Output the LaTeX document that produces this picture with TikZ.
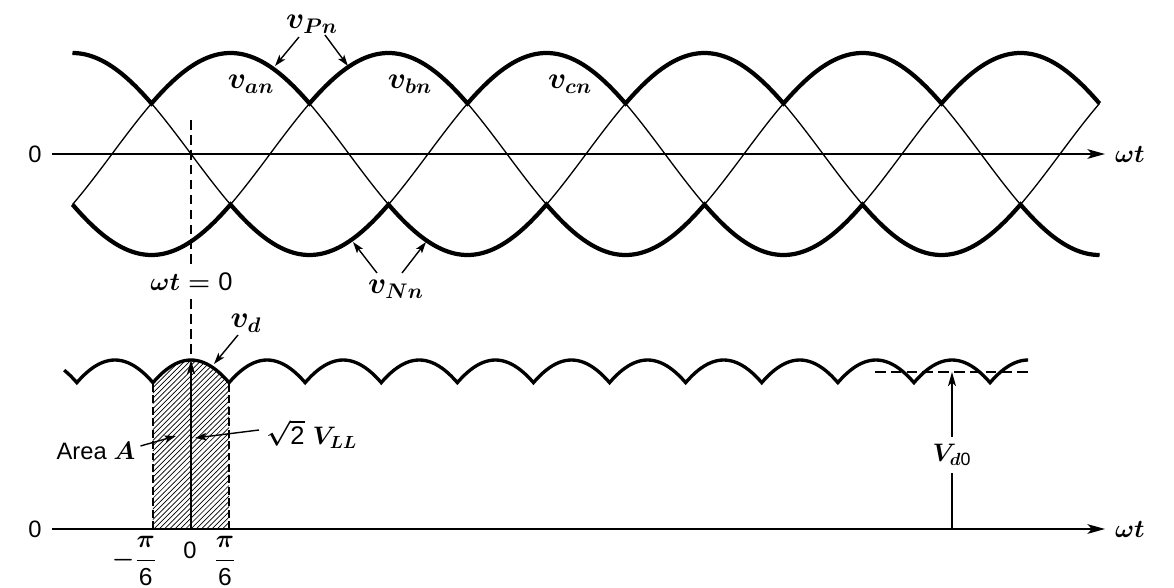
\documentclass[tikz,border=0pt]{standalone}
\usepackage{amsmath}
\usepackage{fontspec}
\setmainfont{Liberation Sans}
\usetikzlibrary{arrows.meta,patterns,calc}
\begin{document}
\begin{tikzpicture}[x=0.02cm,y=-0.02cm,
  thinc/.style={line width=0.75pt},
  thickc/.style={line width=2.4pt,line join=miter},
  vdc/.style={line width=1.9pt,line join=miter},
  axis/.style={line width=1.1pt,-{Stealth[length=10pt,width=5.5pt,inset=2.5pt]}},
  lblarr/.style={line width=0.8pt,-{Stealth[length=6.5pt,width=4.2pt,inset=1.5pt]}},
  varr/.style={line width=1.1pt,-{Stealth[length=8pt,width=4.5pt,inset=2pt]}},
  dashln/.style={line width=0.9pt,dash pattern=on 5.5pt off 3pt},
  dashbd/.style={line width=0.9pt,dash pattern=on 4.5pt off 2pt},
  dashav/.style={line width=0.9pt,dash pattern=on 6pt off 3pt},
  mlabel/.style={font=\fontsize{14.5}{17}\selectfont\boldmath,inner sep=1pt},
  vlabel/.style={font=\fontsize{17}{20}\selectfont\boldmath,inner sep=1pt},
  flabel/.style={font=\fontsize{14}{16}\selectfont\boldmath,inner sep=1pt},
  tlabel/.style={font=\fontsize{13.5}{16}\selectfont\boldmath,inner sep=1pt}]
\useasboundingbox (0,0) rectangle (1174,588);

% ---------- top plot ----------
\draw[axis] (52,154) -- (1105,154);
\node[tlabel] (zeroT) at (35,154) {0};
\node[mlabel,anchor=west] (wtT) at (1113,154) {$\omega t$};

\foreach \ph in {30,150,270}{
  \draw[thinc] plot[domain=-90:690,samples=313] ({191+\x*1.316667},{154-101*cos(\x-\ph)});
}
\draw[thickc] plot[domain=-90:690,samples=313]
  ({191+\x*1.316667},{154-101*max(cos(\x-30),cos(\x-150),cos(\x-270))});
\draw[thickc] plot[domain=-90:690,samples=313]
  ({191+\x*1.316667},{154-101*min(cos(\x-30),cos(\x-150),cos(\x-270))});

\node[vlabel] (van) at (251,84) {$v_{an}$};
\node[vlabel] (vbn) at (410,84) {$v_{bn}$};
\node[vlabel] (vcn) at (570,84) {$v_{cn}$};
\node[vlabel] (vPn) at (312,24) {$v_{Pn}$};
\node[vlabel] (vNn) at (396,289) {$v_{Nn}$};

\coordinate (pa) at (275,66);
\coordinate (pb) at (348,66);
\coordinate (na) at (353,242);
\coordinate (nb) at (426,242);
\draw[lblarr] ($(vPn)+(-13,13)$) -- (pa);
\draw[lblarr] ($(vPn)+(13,11)$) -- (pb);
\draw[lblarr] ($(vNn)+(-19,-16)$) -- (na);
\draw[lblarr] ($(vNn)+(6,-16)$) -- (nb);

% ---------- omega t = 0 ----------
\coordinate (pk) at (191,360);
\coordinate (O) at (191,529);
\draw[dashln] (191,120) -- (pk);
\node[mlabel,fill=white,inner sep=2pt] (wt0) at (191.5,282) {$\omega t = \text{0}$};

% ---------- bottom plot ----------
\fill[pattern=north east lines] (152.95,529) --
  plot[domain=-30:30,samples=25] ({191+\x*1.268333},{529-169*cos(\x)}) -- (229.05,529) -- cycle;
\draw[dashbd] (152.95,529) -- (152.95,383);
\draw[dashbd] (229.05,529) -- (229.05,383);

\draw[axis] (52,529) -- (1105,529);
\node[tlabel] (zeroB) at (35,529) {0};
\node[mlabel,anchor=west] (wtB) at (1113,529) {$\omega t$};

\draw[vdc] plot[domain=-100:660,samples=305]
  ({191+\x*1.268333},{529-169*max(abs(cos(\x)),abs(cos(\x-60)),abs(cos(\x-120)))});

\draw[varr] (O) -- (pk);

\node[vlabel] (vd) at (246,323) {$v_d$};
\coordinate (vdt) at (214,364);
\draw[lblarr] ($(vd)+(-8,12)$) -- (vdt);

\node[tlabel] (areaA) at (96,451) {Area $A$};
\coordinate (at) at (176,436);
\draw[lblarr] ($(areaA.east)+(3,-5)$) -- (at);

\node[mlabel,anchor=west] (rt) at (264,434) {$\sqrt{\text{2}}\;V_{LL}$};
\coordinate (rtt) at (195,438);
\draw[lblarr] ($(rt.west)+(-5,-4)$) -- (rtt);

% V_d0
\coordinate (vdl) at (875,372);
\coordinate (vdr) at (1030,372);
\coordinate (vb) at (952,529);
\coordinate (vtop) at (952,372);
\draw[dashav] (vdl) -- (vdr);
\draw[varr] (vb) -- (vtop);
\node[mlabel,fill=white,inner sep=4pt] (Vd0) at (952,455) {$V_{d\text{0}}$};

% tick labels
\node[flabel,anchor=east] (tm) at (159,561) {$-\dfrac{\pi}{\text{6}}$};
\node[tlabel] (t0) at (190,550) {0};
\node[flabel] (tp) at (225,561) {$\dfrac{\pi}{\text{6}}$};
\end{tikzpicture}
\end{document}
